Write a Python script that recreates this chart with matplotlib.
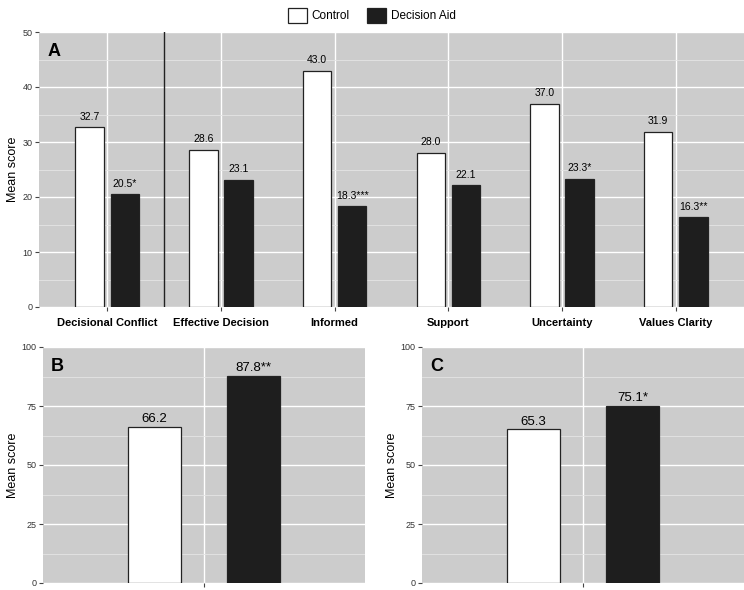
import numpy as np
import matplotlib.pyplot as plt
from matplotlib.patches import Patch
from matplotlib.ticker import MultipleLocator

plt.rcParams['font.family'] = ['Liberation Sans', 'DejaVu Sans']

categories = ['Decisional Conflict', 'Effective Decision', 'Informed',
              'Support', 'Uncertainty', 'Values Clarity']
control_a = [32.7, 28.6, 43.0, 28.0, 37.0, 31.9]
aid_a = [20.5, 23.1, 18.3, 22.1, 23.3, 16.3]
aid_a_marks = ['*', '', '***', '', '*', '**']

control_b = 66.2
aid_b = 87.8
aid_b_mark = '**'
control_c = 65.3
aid_c = 75.1
aid_c_mark = '*'

bg = '#cccccc'
dark = '#1e1e1e'
W, H = 744, 590


def px_axes(fig, left, top, right, bottom):
    return fig.add_axes([left / W, (H - bottom) / H, (right - left) / W, (bottom - top) / H])


def style(ax, ymax, major):
    ax.set_facecolor(bg)
    ax.set_ylim(0, ymax)
    ax.yaxis.set_major_locator(MultipleLocator(major))
    ax.yaxis.set_minor_locator(MultipleLocator(major / 2))
    ax.grid(True, which='major', color='white', lw=1.0)
    ax.grid(True, which='minor', axis='y', color='#e4e4e4', lw=0.6)
    ax.set_axisbelow(True)
    for s in ax.spines.values():
        s.set_visible(False)
    ax.tick_params(axis='y', which='major', length=3, color='#444444', labelsize=6.5, labelcolor='#333333', pad=1.5)
    ax.tick_params(axis='y', which='minor', length=0)
    ax.tick_params(axis='x', length=3, color='#444444')


fig = plt.figure(figsize=(W / 100, H / 100), dpi=100)

# panel A
ax = px_axes(fig, 39, 32, 744, 307)
style(ax, 50, 10)
x = np.arange(1, len(categories) + 1)
ax.bar(x - 0.155, control_a, 0.25, color='white', edgecolor='#222222', lw=0.9, zorder=3)
ax.bar(x + 0.155, aid_a, 0.25, color=dark, edgecolor='#222222', lw=0.9, zorder=3)
for xi, c, a, m in zip(x, control_a, aid_a, aid_a_marks):
    ax.annotate(f'{c:.1f}', (xi - 0.155, c), xytext=(0, 4), textcoords='offset points',
                ha='center', va='bottom', fontsize=7.5)
    ax.annotate(f'{a:.1f}{m}', (xi + 0.155, a), xytext=(0, 4), textcoords='offset points',
                ha='center', va='bottom', fontsize=7.5)
ax.axvline(1.5, color='#222222', lw=1.0, zorder=2)
ax.set_xlim(0.4, len(categories) + 0.6)
ax.set_xticks(x)
ax.set_xticklabels(categories, fontsize=8, fontweight='bold')
ax.tick_params(axis='x', pad=5)
ax.set_ylabel('Mean score', fontsize=9, labelpad=3)
ax.text(0.012, 0.96, 'A', transform=ax.transAxes, fontsize=13, fontweight='bold', va='top')

# panels B and C
for left, right, cv, av, mark, letter in [(43, 365, control_b, aid_b, aid_b_mark, 'B'),
                                          (422, 744, control_c, aid_c, aid_c_mark, 'C')]:
    ax = px_axes(fig, left, 347, right, 583)
    style(ax, 100, 25)
    ax.bar([1 - 0.185], [cv], 0.2, color='white', edgecolor='#222222', lw=0.9, zorder=3)
    ax.bar([1 + 0.185], [av], 0.2, color=dark, edgecolor='#222222', lw=0.9, zorder=3)
    ax.annotate(f'{cv:.1f}', (1 - 0.185, cv), xytext=(0, 1), textcoords='offset points',
                ha='center', va='bottom', fontsize=9.5)
    ax.annotate(f'{av:.1f}{mark}', (1 + 0.185, av), xytext=(0, 1), textcoords='offset points',
                ha='center', va='bottom', fontsize=9.5)
    ax.set_xlim(0.4, 1.6)
    ax.set_xticks([1])
    ax.set_xticklabels([''])
    ax.set_ylabel('Mean score', fontsize=9, labelpad=2)
    ax.text(0.025, 0.955, letter, transform=ax.transAxes, fontsize=13, fontweight='bold', va='top')

handles = [Patch(facecolor='white', edgecolor='#222222', lw=0.9, label='Control'),
           Patch(facecolor=dark, edgecolor='#222222', lw=0.9, label='Decision Aid')]
fig.legend(handles=handles, loc='upper center', bbox_to_anchor=(0.5, 1.005), ncol=2,
           frameon=False, fontsize=8.5, handlelength=1.6, handleheight=1.6,
           columnspacing=1.5, handletextpad=0.4)

fig.savefig('out.png', dpi=100)
